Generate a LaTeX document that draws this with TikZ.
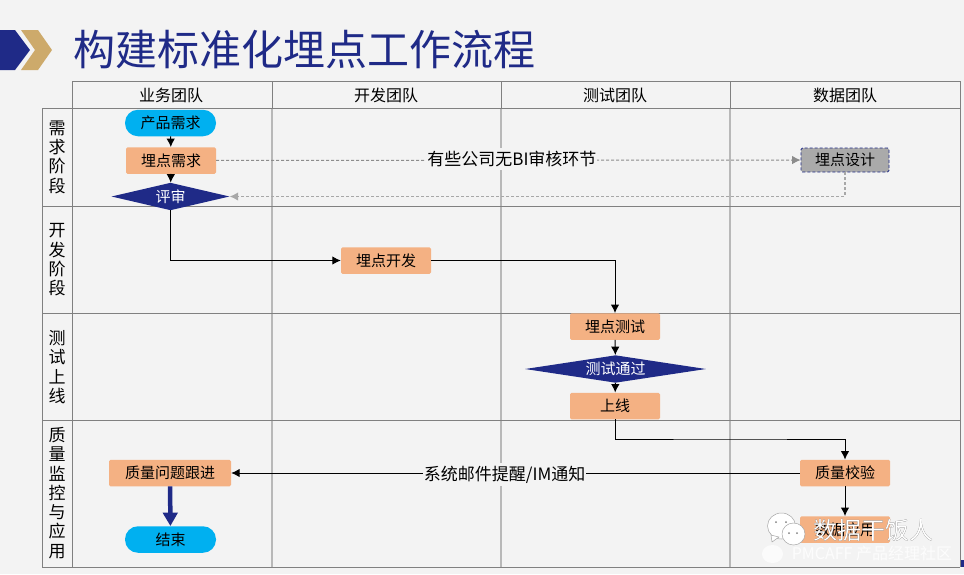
\documentclass[tikz,border=0pt]{standalone}
\usepackage{fontspec}
\setmainfont{Noto Sans CJK SC}
\usetikzlibrary{arrows.meta,shapes.geometric}

\definecolor{pagegray}{RGB}{243,243,243}
\definecolor{navyblu}{RGB}{31,42,135}
\definecolor{goldtan}{RGB}{205,170,107}
\definecolor{skyblu}{RGB}{0,176,240}
\definecolor{peach}{RGB}{244,177,131}
\definecolor{gridgray}{RGB}{128,128,128}
\definecolor{lanegray}{RGB}{184,184,184}
\definecolor{dashgray}{RGB}{140,140,140}

\tikzset{
  txt/.style={font=\fontsize{15}{19.3}\selectfont,text=black,inner sep=0pt},
  headtxt/.style={txt,font=\fontsize{16}{19.3}\selectfont},
  taskbox/.style={txt,fill=peach,rounded corners=1.5pt,minimum width=90,minimum height=26.5},
  startend/.style={txt,fill=skyblu,rounded corners=13pt,minimum width=91,minimum height=26.5},
  decision/.style={txt,diamond,fill=navyblu,text=white,minimum height=27.5},
  lanelabel/.style={txt,font=\fontsize{17}{19.3}\selectfont,align=center,text width=17},
  flow/.style={line width=1pt,-{Latex[length=8.5,width=8.5]}},
  dashflow/.style={line width=1pt,densely dashed,dashgray,-{Latex[length=8.5,width=8.5]}},
  notelabel/.style={txt,font=\fontsize{17}{19.3}\selectfont,fill=pagegray,inner xsep=1pt,inner ysep=3pt},
}

\begin{document}
\begin{tikzpicture}[x=1pt,y=-1pt]
  \useasboundingbox (0,0) rectangle (964,574);
  \fill[pagegray] (0,0) rectangle (964,574);

  % title bar
  \fill[navyblu] (0,30) -- (15,30) -- (30,50) -- (15,70) -- (0,70) -- cycle;
  \fill[goldtan] (21,30) -- (38,30) -- (52,50) -- (38,70) -- (21,70) -- (35,50) -- cycle;
  \node[anchor=west,inner sep=0pt,text=navyblu,font=\fontsize{42}{42}\selectfont] (title) at (73,50) {构建标准化埋点工作流程};

  % swimlane grid
  \foreach \x in {272,501,730}
    \draw[line width=2pt,lanegray] (\x,108) -- (\x,567);
  \foreach \x in {72,272,501,730,960}
    \draw[line width=1pt,gridgray] (\x,81) -- (\x,108);
  \draw[line width=1pt,gridgray] (72,81) -- (960,81);
  \foreach \y in {108,206,313,420,567}
    \draw[line width=1pt,gridgray] (42,\y) -- (960,\y);
  \draw[line width=1pt,gridgray] (42,108) -- (42,567);
  \draw[line width=1pt,gridgray] (72,108) -- (72,567);
  \draw[line width=1pt,gridgray] (960,108) -- (960,567);

  % team headers
  \node[headtxt] (bizteam) at (171,95) {业务团队};
  \node[headtxt] (devteam) at (386,95) {开发团队};
  \node[headtxt] (testteam) at (615,95) {测试团队};
  \node[headtxt] (datateam) at (845,95) {数据团队};

  % phase labels
  \node[lanelabel] (phasereq) at (57,157) {需\\求\\阶\\段};
  \node[lanelabel] (phasedev) at (57,260) {开\\发\\阶\\段};
  \node[lanelabel] (phasetest) at (57,367) {测\\试\\上\\线};
  \node[lanelabel] (phaseqa) at (57,493) {质\\量\\监\\控\\与\\应\\用};

  % steps
  \node[startend] (prodreq) at (170.5,123) {产品需求};
  \node[taskbox] (trackreq) at (171,160.5) {埋点需求};
  \node[decision,aspect=4.3,minimum width=118] (review) at (170.5,196.5) {评审};
  \node[taskbox,fill=lanegray!75!gridgray,draw=navyblu,densely dashed,line width=0.8pt,minimum width=88,minimum height=24] (trackdesign) at (845,160) {埋点设计};
  \node[taskbox] (trackdev) at (386,260.5) {埋点开发};
  \node[taskbox] (tracktest) at (615,326.5) {埋点测试};
  \node[decision,aspect=6.4,minimum width=181] (testpass) at (615.5,369) {测试通过};
  \node[taskbox] (golive) at (615,406) {上线};
  \node[taskbox] (qacheck) at (845,473) {质量校验};
  \node[taskbox] (dataapp) at (845,529.5) {数据应用};
  \node[taskbox,minimum width=122] (qafollow) at (170,473) {质量问题跟进};
  \node[startend] (finish) at (170.5,539.5) {结束};

  % connectors
  \coordinate (liveturn) at (730,439);
  \draw[flow] (prodreq) -- (trackreq);
  \draw[flow] (trackreq) -- (review);
  \draw[dashflow] (trackreq) -- node[notelabel,solid,pos=.506,yshift=1.5] (nobi) {有些公司无BI审核环节} (trackdesign);
  \draw[dashflow,line width=1.1pt,lanegray!70!gridgray] (trackdesign.south) |- (review.east);
  \draw[flow] (review.south) |- (trackdev.west);
  \draw[flow] (trackdev.east) -| (tracktest.north);
  \draw[flow] (tracktest) -- (testpass);
  \draw[flow] (testpass) -- (golive);
  \draw[flow] (golive.south) |- (liveturn) -| (qacheck.north);
  \draw[flow] (qacheck) -- (dataapp);
  \draw[flow] (qacheck) -- node[notelabel,pos=.519,yshift=-1.5] (mailnote) {系统邮件提醒/IM通知} (qafollow);
  \draw[line width=4.5pt,navyblu,-{Triangle[length=13.5,width=14.5]}] (qafollow) -- (finish);

  % watermark
  \fill[navyblu] (961,560) rectangle (964,567);
  \filldraw[white,draw=gray!70,line width=0.5pt] (781.5,526) ellipse (14 and 13);
  \filldraw[white,draw=gray!70,line width=0.5pt] (771,535) -- (772,542) -- (779,537) -- cycle;
  \filldraw[white,draw=gray!70,line width=0.5pt] (793.5,534) ellipse (11.5 and 11);
  \foreach \x/\y in {776/522,786/522,789/533,797/533}
    \fill[gray] (\x,\y) circle (1);
  \fill[white,opacity=0.75] (772.5,554) ellipse (10.5 and 9);
  \node[inner sep=0pt,text=black!80,font=\fontsize{24}{24}\selectfont] (wmshadow) at (873.8,530.8) {数据干饭人};
  \node[inner sep=0pt,text=white,font=\fontsize{24}{24}\selectfont] (wmname) at (873,530) {数据干饭人};
  \node[inner sep=0pt,text=white,opacity=0.8,font=\fontsize{16}{16}\selectfont] (wmsite) at (872,553) {PMCAFF 产品经理社区};
\end{tikzpicture}
\end{document}
